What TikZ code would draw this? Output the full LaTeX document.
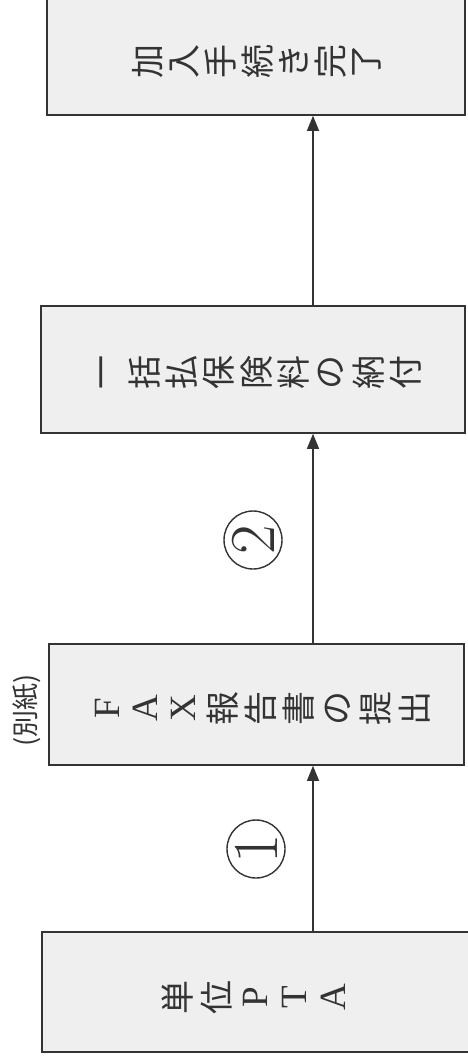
\documentclass[tikz,border=0pt]{standalone}
\usepackage{fontspec}
\newfontfamily\cjk{Noto Sans CJK JP}
\newfontfamily\latf{Liberation Serif}
\usetikzlibrary{arrows.meta}
\definecolor{ink}{HTML}{333333}
\definecolor{boxfill}{HTML}{EFEFEF}
\newcommand\boxtext[5]{\foreach \c [count=\i from 0] in {#5} {\node[ch] (#1-\i) at ({#2+#3*\i},#4) {\c};}}
\newcommand\lat[1]{{\latf\fontsize{37}{37}\selectfont #1}}
\begin{document}
\begin{tikzpicture}[x=1pt,y=-1pt,
  box/.style={draw=ink, fill=boxfill, line width=1.6pt, rectangle, inner sep=0pt},
  ch/.style={rotate=90, font=\cjk\fontsize{34}{34}\selectfont, text=ink, inner sep=0pt, anchor=center},
  arr/.style={draw=ink, line width=1.3pt, -{Triangle[length=15pt,width=12pt]}},
  num/.style={circle, draw=ink, line width=1.4pt, minimum size=58pt, inner sep=0pt, rotate=90, font=\rmfamily\fontsize{64}{64}\selectfont, text=ink},
  note/.style={rotate=90, font=\cjk\fontsize{27}{27}\selectfont, text=ink, inner sep=0pt}
]
\useasboundingbox (0,0) rectangle (468,1061);
\clip (0,0) rectangle (468,1061);
\fill[white] (0,0) rectangle (468,1061);
\coordinate (lx) at (313,0);
% boxes
\node[box, minimum width=418pt, minimum height=121pt] (b1) at (256,54.5) {};
\node[box, minimum width=424pt, minimum height=127pt] (b2) at (253,369.5) {};
\node[box, minimum width=415pt, minimum height=121pt] (b3) at (256.5,704.5) {};
\node[box, minimum width=428pt, minimum height=120pt] (b4) at (256,992) {};
% texts
\boxtext{t1}{148}{36.5}{61}{加,入,手,続,き,完,了}
\boxtext{t2}{107}{37.3}{372}{一,括,払,保,険,料,の,納,付}
\boxtext{t3}{107}{38.4}{708}{\lat{F},\lat{A},\lat{X},報,告,書,の,提,出}
\boxtext{t4}{178}{38.8}{997}{単,位,\lat{P},\lat{T},\lat{A}}
\node[note] (bessi) at (27,710) {(別紙)};
% connectors
\draw[arr] (b4.north -| lx) -- (b3.south -| lx);
\draw[arr] (b3.north -| lx) -- (b2.south -| lx);
\draw[arr] (b2.north -| lx) -- (b1.south -| lx);
% step labels
\node[num] (n1) at (256,849) {1};
\node[num] (n2) at (253,540) {2};
\end{tikzpicture}
\end{document}
